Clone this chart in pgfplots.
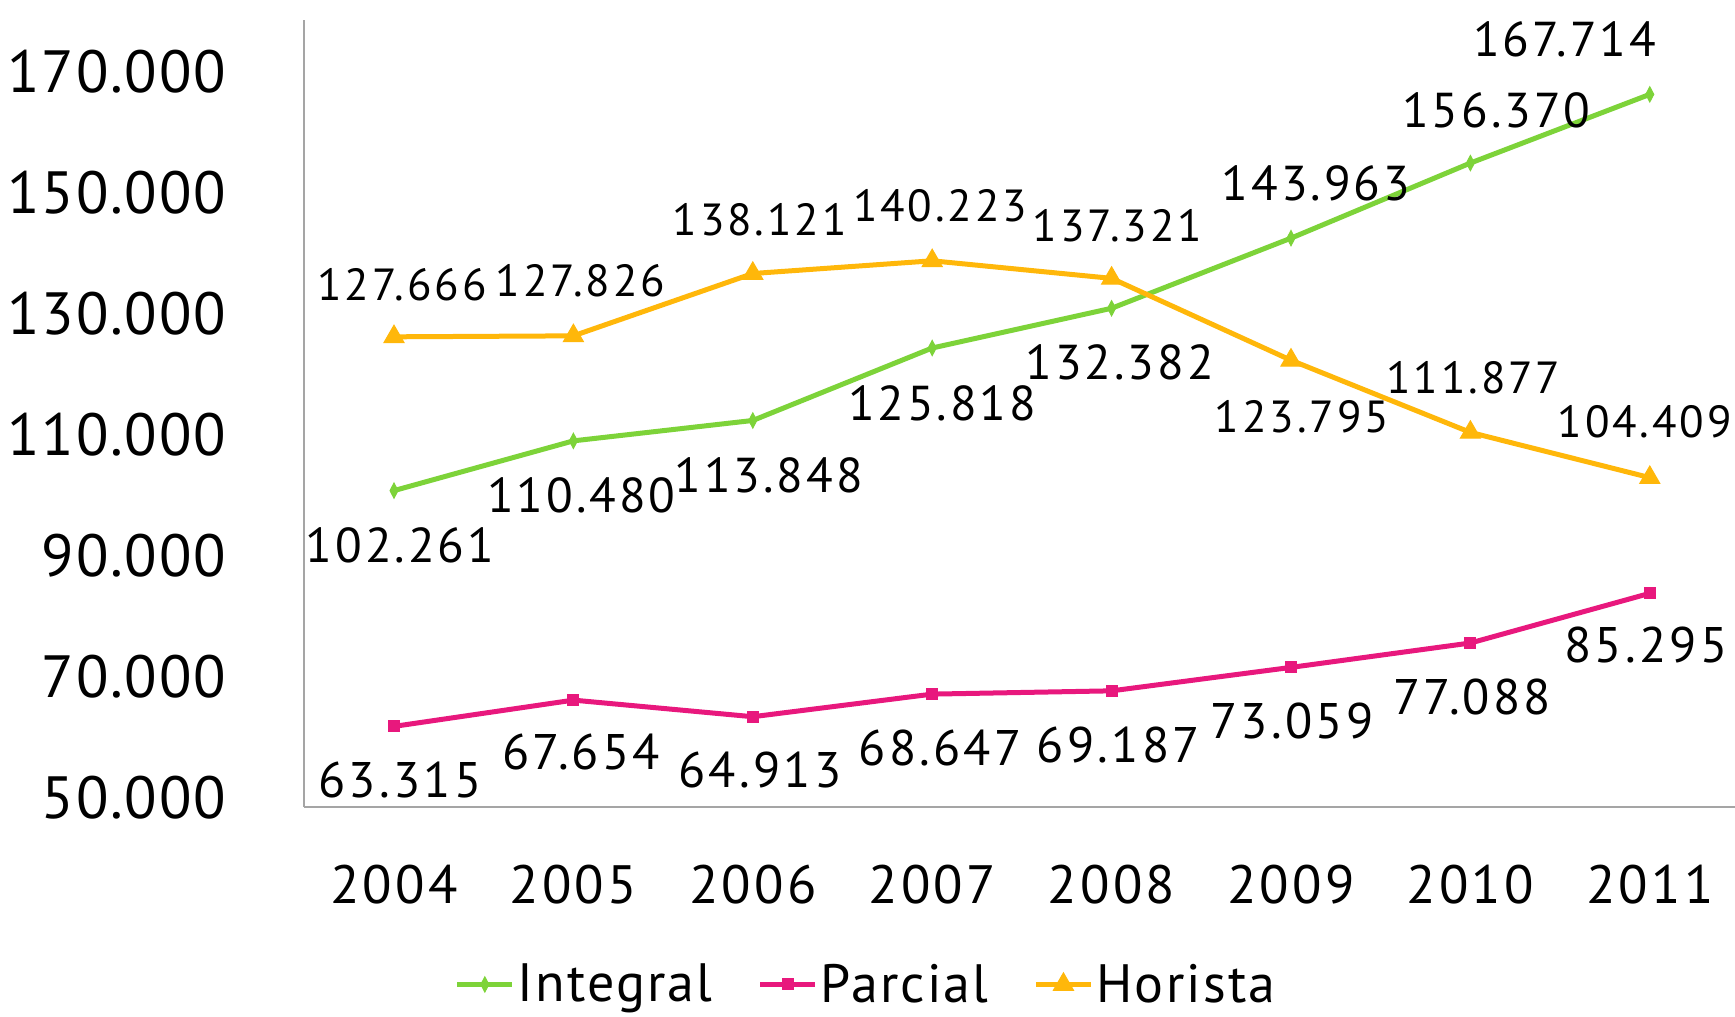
\documentclass[border=0pt]{standalone}
\usepackage{pgfplots}
\pgfplotsset{compat=1.18}
\usepackage{pgfplotstable}
\usepackage{fontspec}
\setmainfont{PT Sans}
\definecolor{cInt}{RGB}{125,211,57}
\definecolor{cPar}{RGB}{232,24,125}
\definecolor{cHor}{RGB}{255,183,10}
\definecolor{axgray}{RGB}{165,165,165}

\pgfplotstableread{
x y dx dy lbl
0 102261 3 -27.5 102.261
1 110480 4 -27 110.480
2 113848 8 -27.5 113.848
3 125818 5 -27.5 125.818
4 132382 4 -27 132.382
5 143963 12.5 27.5 143.963
6 156370 13 26.5 156.370
7 167714 -42.5 27.5 167.714
}\integral

\pgfplotstableread{
x y dx dy lbl
0 63315 3 -27 63.315
1 67654 4 -26 67.654
2 64913 3.5 -26.5 64.913
3 68647 4 -27 68.647
4 69187 3.5 -27 69.187
5 73059 0.5 -27 73.059
6 77088 1 -27 77.088
7 85295 -2 -26 85.295
}\parcial

\pgfplotstableread{
x y dx dy lbl
0 127666 4 26 127.666
1 127826 3.5 27.5 127.826
2 138121 3.5 27 138.121
3 140223 4 27.5 140.223
4 137321 3 26.5 137.321
5 123795 5.5 -28 123.795
6 111877 1.5 27.5 111.877
7 104409 -2.5 28 104.409
}\horista

\begin{document}
\begin{tikzpicture}
\useasboundingbox (0,0) rectangle (867.5pt,508.5pt);
\begin{axis}[
  at={(152.15pt,105pt)}, anchor=south west,
  width=715.35pt, height=393.5pt, scale only axis,
  xmin=-0.5, xmax=7.475, ymin=50000, ymax=180000,
  scaled y ticks=false, scaled x ticks=false,
  axis x line*=bottom, axis y line*=left,
  axis line style={-, draw=axgray, line width=1pt},
  major tick length=0pt,
  xtick={0,...,7},
  xticklabels={2004,2005,2006,2007,2008,2009,2010,2011},
  ytick={50000,70000,90000,110000,130000,150000,170000},
  yticklabels={50.000,70.000,90.000,110.000,130.000,150.000,170.000},
  xticklabel style={font=\fontsize{27}{28}\selectfont\addfontfeature{LetterSpace=6}, anchor=center, yshift=-39pt},
  yticklabel style={font=\fontsize{29.8}{31}\selectfont\addfontfeature{LetterSpace=3}, anchor=east, inner sep=0pt, xshift=-39pt, yshift=4.5pt},
  clip=false,
  legend columns=3,
  legend style={at={(0.393,-0.2255)}, anchor=center, draw=none, fill=none,
    font=\fontsize{27}{28}\selectfont\addfontfeature{LetterSpace=4}, nodes={inner sep=1.5pt},
    /tikz/every even column/.append style={column sep=21pt}},
  legend image code/.code={
    \draw[#1] (0pt,0pt) -- (27.5pt,0pt);
    \draw[#1] plot coordinates {(13.75pt,0pt)};
  },
]
\addplot[cInt, line width=2.5pt, mark=diamond*, mark size=3.8pt,
  mark options={xscale=0.7, line width=0.5pt, solid},
  point meta=explicit symbolic, nodes near coords,
  visualization depends on={\thisrow{dx}\as\dx},
  visualization depends on={\thisrow{dy}\as\dy},
  nodes near coords style={black, font=\fontsize{24.5}{25}\selectfont\addfontfeature{LetterSpace=6}, anchor=center, xshift=\dx pt, yshift=\dy pt}]
  table[x=x, y=y, meta=lbl] {\integral};
\addlegendentry{Integral}
\addplot[cPar, line width=2.5pt, mark=square*, mark size=2.7pt,
  mark options={line width=0.6pt, solid},
  point meta=explicit symbolic, nodes near coords,
  visualization depends on={\thisrow{dx}\as\dx},
  visualization depends on={\thisrow{dy}\as\dy},
  nodes near coords style={black, font=\fontsize{25}{26}\selectfont\addfontfeature{LetterSpace=6.5}, anchor=center, xshift=\dx pt, yshift=\dy pt}]
  table[x=x, y=y, meta=lbl] {\parcial};
\addlegendentry{Parcial}
\addplot[cHor, line width=2.5pt, mark=triangle*, mark size=5.8pt,
  mark options={line width=0.5pt, solid},
  point meta=explicit symbolic, nodes near coords,
  visualization depends on={\thisrow{dx}\as\dx},
  visualization depends on={\thisrow{dy}\as\dy},
  nodes near coords style={black, font=\fontsize{22.5}{23}\selectfont\addfontfeature{LetterSpace=6.5}, anchor=center, xshift=\dx pt, yshift=\dy pt}]
  table[x=x, y=y, meta=lbl] {\horista};
\addlegendentry{Horista}
\end{axis}
\end{tikzpicture}
\end{document}
